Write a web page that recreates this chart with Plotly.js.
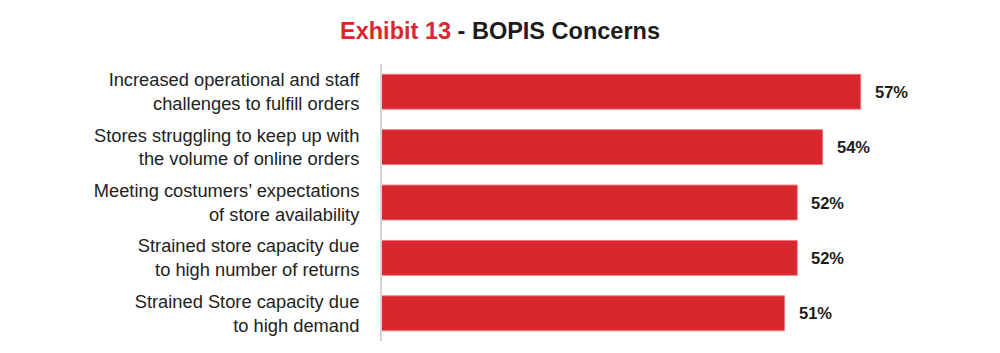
<!DOCTYPE html>
<html>
<head>
<meta charset="utf-8">
<script src="https://cdn.plot.ly/plotly-3.0.1.min.js"></script>
<style>html,body{margin:0;padding:0;background:#fff;}#chart{width:1000px;height:353px;}</style>
</head>
<body>
<div id="chart"></div>
<script>
const categories = [
  "Increased operational and staff<br>challenges to fulfill orders",
  "Stores struggling to keep up with<br>the volume of online orders",
  "Meeting costumers’ expectations<br>of store availability",
  "Strained store capacity due<br>to high number of returns",
  "Strained Store capacity due<br>to high demand"
];
const values = [57, 54, 52, 52, 51];
const valueLabels = ["57%", "54%", "52%", "52%", "51%"];

const RED = "#D9272E";

const trace = {
  type: "bar",
  orientation: "h",
  y: categories,
  x: values,
  marker: { color: RED, line: { color: "rgba(236,120,126,0.9)", width: 1 } },
  hoverinfo: "skip"
};

const annotations = values.map((v, i) => ({
  x: v, y: categories[i], xref: "x", yref: "y",
  text: valueLabels[i], showarrow: false,
  xanchor: "left", yanchor: "middle", xshift: 12,
  font: { family: "Liberation Sans, Arial, sans-serif", size: 16.5, color: "#1c1c1c", weight: 700 }
}));

const layout = {
  width: 1000, height: 353,
  margin: { l: 382, r: 40, t: 64, b: 12 },
  paper_bgcolor: "#fff", plot_bgcolor: "#fff",
  showlegend: false,
  bargap: 0.37,
  title: {
    text: '<span style="color:' + RED + '">Exhibit 13</span> - BOPIS Concerns',
    font: { family: "Liberation Sans, Arial, sans-serif", size: 23.5, color: "#1c1c1c", weight: 700 },
    x: 0.5, xref: "container", xanchor: "center",
    y: 0.913, yref: "container", yanchor: "middle"
  },
  xaxis: {
    range: [19.25, 64.83],
    showgrid: false, zeroline: false, showticklabels: false, showline: false, ticks: "",
    fixedrange: true
  },
  yaxis: {
    autorange: "reversed",
    showgrid: false, zeroline: false,
    showline: true, linecolor: "#d4d4d4", linewidth: 2,
    ticks: "", ticklabelstandoff: 17,
    tickfont: { family: "Liberation Sans, Arial, sans-serif", size: 18.3, color: "#222" },
    fixedrange: true
  },
  annotations: annotations
};

Plotly.newPlot("chart", [trace], layout, { displayModeBar: false, staticPlot: true });
</script>
</body>
</html>
